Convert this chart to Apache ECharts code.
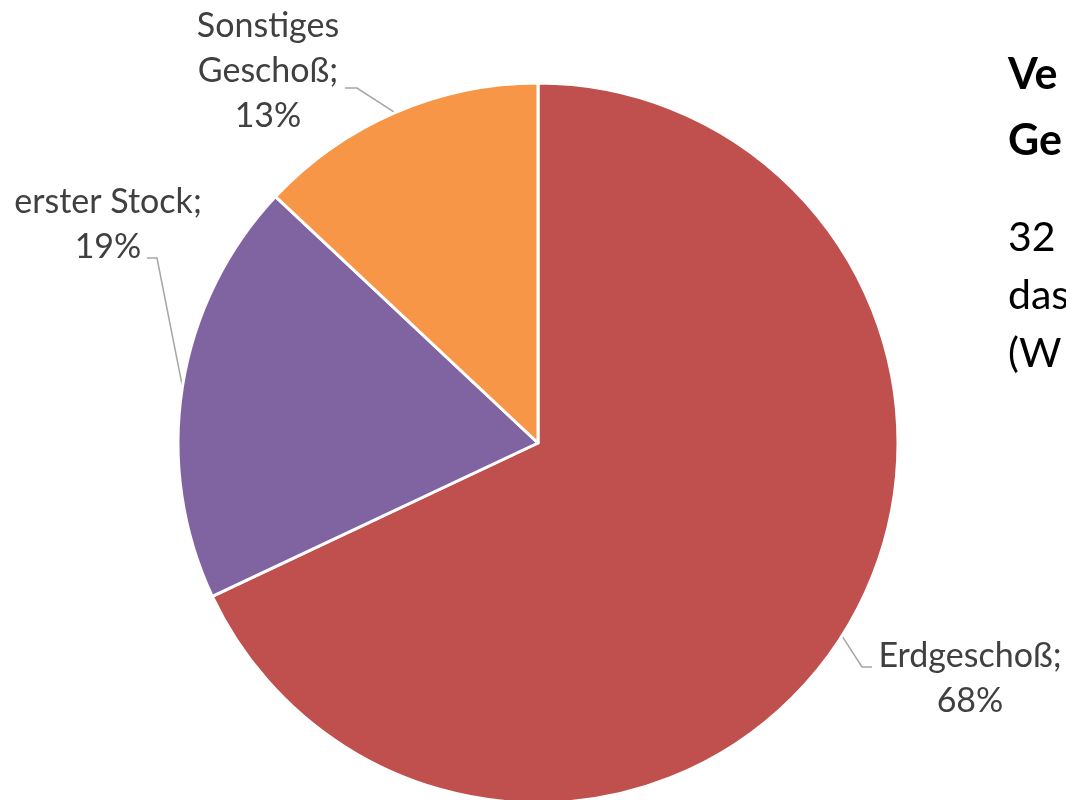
<!DOCTYPE html>
<html>
<head>
<meta charset="utf-8">
<script src="https://cdn.jsdelivr.net/npm/echarts@6/dist/echarts.min.js"></script>
<style>
html,body{margin:0;padding:0;background:#fff;}
#chart{width:1066px;height:800px;}
</style>
</head>
<body>
<div id="chart"></div>
<script>
const categories = ['Erdgeschoß', 'erster Stock', 'Sonstiges\nGeschoß'];
const values = [68, 19, 13];
const colors = ['#C0504D', '#8064A2', '#F79646'];
const sideTitle = ['Ve', 'Ge'];
const sideBody = ['32', 'das', '(W'];

// label placement (styling)
const labelPos = [
  {x: 970, y: 679, elbow: [862, 667], end: [872, 667]},
  {x: 108, y: 225, elbow: [157, 258], end: [147, 258]},
  {x: 268, y: 71, elbow: [357, 88], end: [345, 88]}
];
const CX = 538, CY = 443, R = 360;

const chart = echarts.init(document.getElementById('chart'));
const total = values.reduce((a, b) => a + b, 0);
const midAngles = [];
let acc = 0;
values.forEach(v => { midAngles.push((acc + v / 2) / total * 2 * Math.PI); acc += v; });

const graphics = [];
sideTitle.forEach((t, i) => graphics.push({
  type: 'text', left: 1008, top: 54 + i * 66,
  style: {text: t, font: 'bold 43px Lato', fill: '#000'}
}));
sideBody.forEach((t, i) => graphics.push({
  type: 'text', left: 1008, top: 217 + i * 58,
  style: {text: t, font: '41px Lato', fill: '#000'}
}));

chart.setOption({
  animation: false,
  backgroundColor: '#fff',
  graphic: graphics,
  series: [{
    type: 'pie',
    center: [CX, CY],
    radius: [0, R],
    startAngle: 90,
    clockwise: true,
    data: categories.map((c, i) => ({name: c, value: values[i], itemStyle: {color: colors[i]}})),
    itemStyle: {borderColor: '#fff', borderWidth: 3},
    label: {
      show: true,
      formatter: p => p.name + ';\n' + Math.round(p.percent) + '%',
      fontFamily: 'Lato',
      fontSize: 34,
      lineHeight: 45,
      color: '#404040',
      align: 'center',
      width: 400,
      overflow: 'none'
    },
    labelLine: {show: true, lineStyle: {color: '#A6A6A6', width: 1.5}},
    labelLayout: function (params) {
      const i = params.dataIndex;
      const lp = labelPos[i];
      const a = midAngles[i];
      const p0 = [CX + R * Math.sin(a), CY - R * Math.cos(a)];
      return {
        x: lp.x, y: lp.y, align: 'center', verticalAlign: 'middle',
        labelLinePoints: [p0, lp.elbow, lp.end]
      };
    }
  }]
});
</script>
</body>
</html>
